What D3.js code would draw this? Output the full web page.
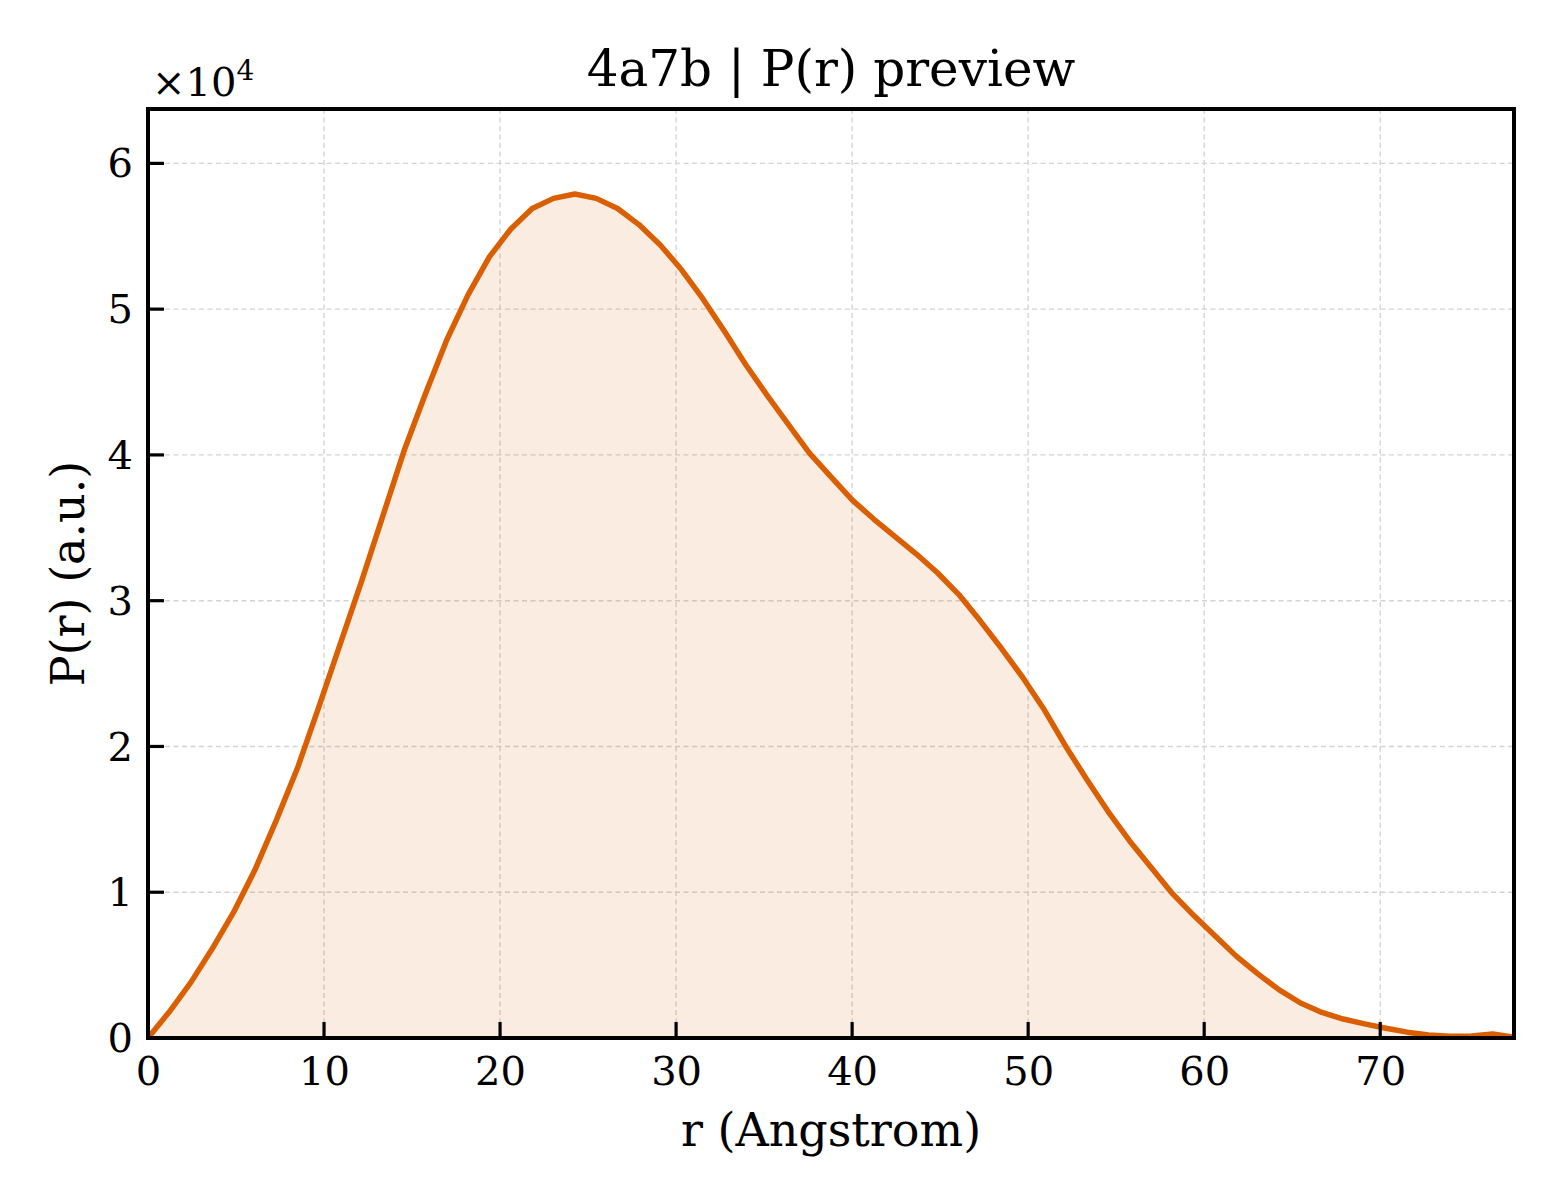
<!DOCTYPE html>
<html>
<head>
<meta charset="utf-8">
<script src="https://cdn.jsdelivr.net/npm/d3@7"></script>
<style>
  html, body { margin: 0; padding: 0; background: #fff; }
  svg { display: block; font-family: "DejaVu Serif", serif; }
</style>
</head>
<body>
<svg id="chart" width="1560" height="1200"></svg>
<script>
// ---- data ----
const title = "4a7b | P(r) preview";
const xLabel = "r (Angstrom)";
const yLabel = "P(r) (a.u.)";
const dmax = 77.6;
// P(r) in units of 1e4, sampled at r_i = i * dmax / 64
const pr = [
  0.00, 0.18, 0.38, 0.61, 0.86, 1.15, 1.49, 1.85, 2.27, 2.70,
  3.13, 3.58, 4.03, 4.42, 4.79, 5.10, 5.36, 5.55, 5.69, 5.76,
  5.79, 5.76, 5.69, 5.58, 5.44, 5.27, 5.07, 4.85, 4.62, 4.41,
  4.21, 4.01, 3.85, 3.69, 3.56, 3.44, 3.32, 3.19, 3.04, 2.86,
  2.67, 2.47, 2.25, 2.00, 1.77, 1.55, 1.35, 1.17, 0.99, 0.84,
  0.70, 0.56, 0.44, 0.33, 0.24, 0.175, 0.13, 0.097, 0.067, 0.04,
  0.02, 0.012, 0.014, 0.028, 0.005
];
const xTicks = [0, 10, 20, 30, 40, 50, 60, 70];
const yTicks = [0, 1, 2, 3, 4, 5, 6];
const yMax = 6.373;

const data = pr.map((v, i) => ({ r: i * dmax / (pr.length - 1), p: v }));

// ---- layout ----
const L = 148, R = 1514, T = 109, B = 1038;
const svg = d3.select("#chart");
const x = d3.scaleLinear().domain([0, dmax]).range([L, R]);
const y = d3.scaleLinear().domain([0, yMax]).range([B, T]);

const lineColor = "#d95f02";

// grid
const grid = svg.append("g");
grid.selectAll("line.gx").data(xTicks.filter(t => t > 0)).join("line")
  .attr("x1", d => x(d)).attr("x2", d => x(d))
  .attr("y1", T).attr("y2", B)
  .attr("stroke", "#d4d4d4").attr("stroke-width", 1.4)
  .attr("stroke-dasharray", "5,3.5");
grid.selectAll("line.gy").data(yTicks.filter(t => t > 0)).join("line")
  .attr("x1", L).attr("x2", R)
  .attr("y1", d => y(d)).attr("y2", d => y(d))
  .attr("stroke", "#d4d4d4").attr("stroke-width", 1.4)
  .attr("stroke-dasharray", "5,3.5");

// area + line
svg.append("path").datum(data)
  .attr("d", d3.area().x(d => x(d.r)).y0(y(0)).y1(d => y(d.p)))
  .attr("fill", lineColor).attr("fill-opacity", 0.12);
svg.append("path").datum(data)
  .attr("d", d3.line().x(d => x(d.r)).y(d => y(d.p)))
  .attr("fill", "none").attr("stroke", lineColor)
  .attr("stroke-width", 5.5).attr("stroke-linejoin", "round").attr("stroke-linecap", "butt");

// axes: labels through d3 axes, tick marks drawn inward
const tickLen = 16;
const xAxis = d3.axisBottom(x).tickValues(xTicks).tickFormat(d3.format("d"))
  .tickSize(0).tickPadding(19);
const yAxis = d3.axisLeft(y).tickValues(yTicks).tickFormat(d3.format("d"))
  .tickSize(0).tickPadding(15);

const gx = svg.append("g").attr("transform", `translate(0,${B})`).call(xAxis);
const gy = svg.append("g").attr("transform", `translate(${L},0)`).call(yAxis);
[gx, gy].forEach(g => {
  g.select(".domain").remove();
  g.selectAll(".tick line").remove();
  g.selectAll(".tick text").attr("fill", "#000")
    .style("font-family", "'DejaVu Serif', serif").style("font-size", "40px");
});
gx.selectAll(".tick text").attr("dy", "0.71em");
gy.selectAll(".tick text").attr("dy", "0.34em");

// inward tick marks
svg.append("g").selectAll("line").data(xTicks).join("line")
  .attr("x1", d => x(d)).attr("x2", d => x(d))
  .attr("y1", B).attr("y2", B - tickLen)
  .attr("stroke", "#000").attr("stroke-width", 3.2);
svg.append("g").selectAll("line").data(yTicks).join("line")
  .attr("x1", L).attr("x2", L + tickLen)
  .attr("y1", d => y(d)).attr("y2", d => y(d))
  .attr("stroke", "#000").attr("stroke-width", 3.2);

// frame
svg.append("rect").attr("x", L).attr("y", T).attr("width", R - L).attr("height", B - T)
  .attr("fill", "none").attr("stroke", "#000").attr("stroke-width", 4);

// title and labels
svg.append("text").attr("x", (L + R) / 2).attr("y", 86)
  .attr("text-anchor", "middle").style("font-size", "50px").text(title);
svg.append("text").attr("x", (L + R) / 2).attr("y", 1146)
  .attr("text-anchor", "middle").style("font-size", "46px").text(xLabel);
svg.append("text").attr("transform", `translate(84,${(T + B) / 2}) rotate(-90)`)
  .attr("text-anchor", "middle").style("font-size", "46px").text(yLabel);

// offset text ×10^4
const off = svg.append("text").attr("x", 152).attr("y", 96).style("font-size", "40px");
off.append("tspan").text("×10");
off.append("tspan").attr("dy", -16).style("font-size", "28px").text("4");
</script>
</body>
</html>
